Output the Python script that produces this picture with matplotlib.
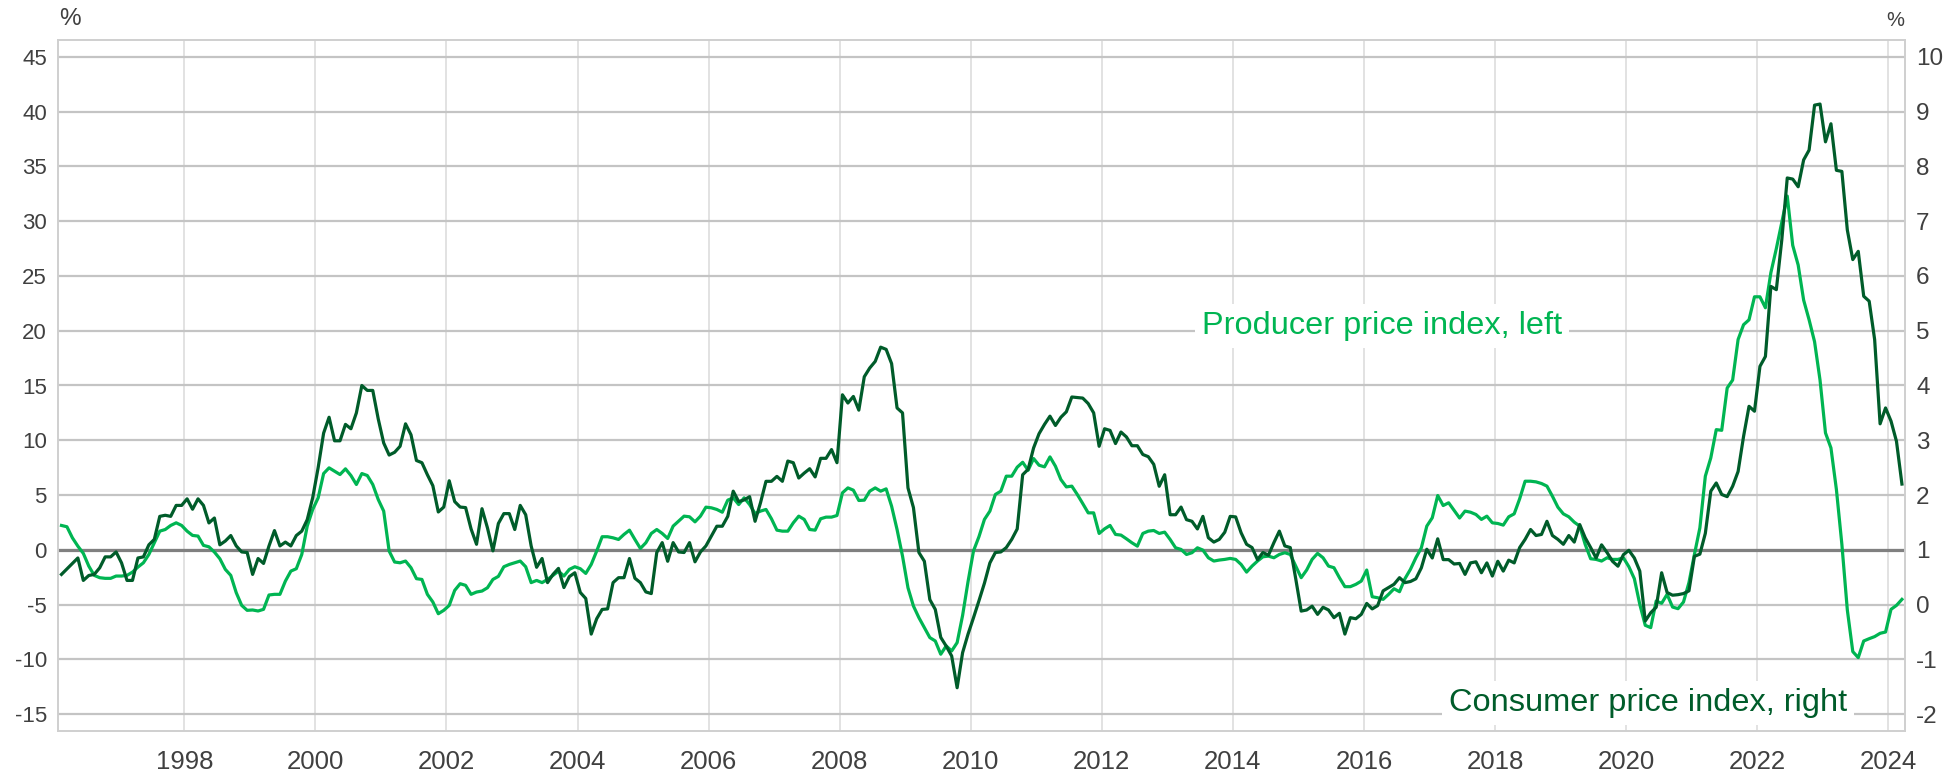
import numpy as np
import matplotlib
matplotlib.use("Agg")
import matplotlib.pyplot as plt

plt.rcParams['font.family'] = ['Liberation Sans', 'DejaVu Sans']

# Monthly observations, Feb 1996 .. Mar 2024
start_year, start_month = 1996, 2

# Consumer price index, % (right axis)
cpi = [
    0.55, 0.65, 0.75, 0.85, 0.44, 0.53, 0.55, 0.67, 0.87, 0.87,
    0.96, 0.76, 0.44, 0.44, 0.85, 0.87, 1.09, 1.19, 1.61, 1.63,
    1.61, 1.81, 1.81, 1.93, 1.74, 1.93, 1.81, 1.49, 1.58, 1.09,
    1.16, 1.26, 1.07, 0.96, 0.95, 0.55, 0.84, 0.75, 1.07, 1.35,
    1.07, 1.14, 1.07, 1.26, 1.34, 1.55, 1.95, 2.50, 3.13, 3.42,
    2.99, 2.99, 3.29, 3.21, 3.50, 4.00, 3.91, 3.91, 3.39, 2.95,
    2.73, 2.78, 2.89, 3.30, 3.10, 2.63, 2.59, 2.37, 2.17, 1.69,
    1.78, 2.26, 1.88, 1.78, 1.77, 1.38, 1.10, 1.75, 1.40, 0.98,
    1.48, 1.66, 1.66, 1.37, 1.81, 1.64, 1.07, 0.68, 0.84, 0.40,
    0.55, 0.66, 0.31, 0.51, 0.58, 0.22, 0.11, -0.54, -0.26, -0.09,
    -0.08, 0.40, 0.49, 0.49, 0.84, 0.48, 0.40, 0.23, 0.20, 0.95,
    1.13, 0.79, 1.13, 0.96, 0.95, 1.13, 0.78, 0.96, 1.07, 1.25,
    1.43, 1.43, 1.61, 2.07, 1.88, 1.91, 1.97, 1.52, 1.86, 2.25,
    2.25, 2.34, 2.25, 2.62, 2.59, 2.31, 2.40, 2.48, 2.33, 2.67,
    2.67, 2.83, 2.59, 3.83, 3.68, 3.80, 3.55, 4.16, 4.32, 4.44,
    4.70, 4.66, 4.40, 3.59, 3.50, 2.13, 1.77, 0.95, 0.79, 0.09,
    -0.09, -0.60, -0.76, -0.94, -1.52, -0.88, -0.54, -0.24, 0.07, 0.39,
    0.76, 0.95, 0.96, 1.04, 1.19, 1.38, 2.37, 2.47, 2.86, 3.12,
    3.29, 3.44, 3.27, 3.42, 3.52, 3.79, 3.78, 3.77, 3.67, 3.50,
    2.89, 3.21, 3.18, 2.94, 3.15, 3.06, 2.90, 2.90, 2.74, 2.70,
    2.56, 2.16, 2.37, 1.64, 1.64, 1.78, 1.55, 1.52, 1.38, 1.61,
    1.22, 1.14, 1.19, 1.32, 1.61, 1.60, 1.31, 1.10, 1.04, 0.82,
    0.95, 0.90, 1.13, 1.34, 1.07, 1.04, 0.47, -0.12, -0.10, -0.03,
    -0.18, -0.05, -0.10, -0.24, -0.16, -0.54, -0.24, -0.26, -0.18, 0.02,
    -0.08, -0.02, 0.25, 0.31, 0.37, 0.49, 0.40, 0.42, 0.47, 0.67,
    1.01, 0.85, 1.20, 0.82, 0.82, 0.74, 0.75, 0.55, 0.76, 0.78,
    0.58, 0.76, 0.52, 0.79, 0.61, 0.81, 0.76, 1.04, 1.19, 1.37,
    1.26, 1.28, 1.52, 1.26, 1.19, 1.10, 1.26, 1.14, 1.46, 1.22,
    1.04, 0.85, 1.09, 0.95, 0.79, 0.70, 0.91, 0.99, 0.85, 0.61,
    -0.30, -0.15, -0.05, 0.58, 0.22, 0.17, 0.18, 0.20, 0.25, 0.88,
    0.92, 1.30, 2.07, 2.22, 2.01, 1.97, 2.16, 2.43, 3.07, 3.62,
    3.53, 4.35, 4.53, 5.81, 5.75, 6.66, 7.79, 7.77, 7.63, 8.12,
    8.30, 9.12, 9.14, 8.45, 8.78, 7.93, 7.91, 6.84, 6.30, 6.45,
    5.63, 5.54, 4.84, 3.30, 3.59, 3.35, 2.98, 2.20,
]

# Producer price index, % (left axis)
ppi = [
    2.22, 2.10, 1.09, 0.33, -0.33, -1.49, -2.34, -2.55, -2.61, -2.61,
    -2.40, -2.40, -2.34, -2.04, -1.58, -1.19, -0.43, 0.64, 1.70, 1.85,
    2.22, 2.46, 2.22, 1.70, 1.31, 1.25, 0.40, 0.27, -0.21, -0.82,
    -1.79, -2.34, -3.92, -5.08, -5.53, -5.50, -5.59, -5.44, -4.13, -4.07,
    -4.07, -2.86, -1.95, -1.73, -0.43, 2.16, 3.68, 4.74, 6.96, 7.48,
    7.17, 6.87, 7.39, 6.78, 5.96, 6.96, 6.78, 5.96, 4.59, 3.53,
    -0.12, -1.12, -1.19, -1.03, -1.64, -2.64, -2.71, -4.07, -4.77, -5.84,
    -5.53, -5.08, -3.71, -3.10, -3.25, -4.07, -3.86, -3.77, -3.47, -2.71,
    -2.43, -1.55, -1.34, -1.19, -1.03, -1.55, -3.00, -2.80, -3.00, -2.71,
    -2.34, -1.95, -2.40, -1.79, -1.55, -1.73, -2.16, -1.34, -0.12, 1.19,
    1.19, 1.09, 0.94, 1.40, 1.79, 0.94, 0.12, 0.64, 1.49, 1.85,
    1.49, 1.03, 2.16, 2.61, 3.07, 3.01, 2.55, 3.07, 3.89, 3.83,
    3.68, 3.43, 4.53, 4.74, 4.13, 4.74, 4.13, 3.31, 3.53, 3.68,
    2.83, 1.79, 1.70, 1.70, 2.46, 3.07, 2.77, 1.85, 1.79, 2.83,
    2.98, 2.98, 3.13, 5.20, 5.65, 5.44, 4.50, 4.53, 5.35, 5.65,
    5.35, 5.56, 3.98, 1.85, -0.58, -3.47, -5.14, -6.20, -7.11, -8.02,
    -8.33, -9.54, -8.78, -9.24, -8.48, -6.00, -2.90, -0.10, 1.20, 2.77,
    3.53, 5.05, 5.35, 6.72, 6.72, 7.54, 7.99, 7.26, 8.33, 7.72,
    7.57, 8.48, 7.63, 6.41, 5.74, 5.81, 5.05, 4.22, 3.37, 3.37,
    1.49, 1.91, 2.22, 1.40, 1.34, 1.00, 0.64, 0.33, 1.49, 1.70,
    1.76, 1.49, 1.61, 0.94, 0.18, 0.03, -0.43, -0.27, 0.18, -0.03,
    -0.73, -1.03, -0.94, -0.88, -0.79, -0.88, -1.34, -2.04, -1.49, -1.03,
    -0.64, -0.58, -0.73, -0.43, -0.27, -0.43, -1.49, -2.55, -1.85, -0.88,
    -0.33, -0.73, -1.49, -1.64, -2.55, -3.37, -3.37, -3.16, -2.86, -1.85,
    -4.29, -4.38, -4.53, -4.07, -3.56, -3.83, -2.64, -1.79, -0.73, 0.18,
    2.16, 2.92, 4.95, 4.04, 4.29, 3.60, 2.90, 3.53, 3.43, 3.22,
    2.77, 3.07, 2.46, 2.40, 2.25, 3.01, 3.28, 4.65, 6.26, 6.26,
    6.20, 6.05, 5.81, 4.89, 3.89, 3.28, 3.01, 2.52, 2.16, 0.49,
    -0.82, -0.88, -1.03, -0.73, -0.88, -0.88, -0.73, -1.55, -2.64, -4.98,
    -6.90, -7.11, -4.68, -4.89, -4.07, -5.23, -5.38, -4.77, -3.00, -0.43,
    2.00, 6.72, 8.39, 10.97, 10.91, 14.77, 15.50, 19.20, 20.55, 21.00,
    23.10, 23.10, 22.10, 25.30, 27.50, 29.90, 32.30, 27.80, 26.00, 22.80,
    21.00, 19.00, 15.50, 10.67, 9.30, 5.50, 0.50, -5.50, -9.30, -9.85,
    -8.33, -8.12, -7.93, -7.63, -7.51, -5.44, -5.08, -4.53,
]

left_ticks = list(range(-15, 50, 5))
right_ticks = list(range(-2, 11, 1))
year_ticks = list(range(1998, 2025, 2))
ppi_label = "Producer price index, left"
cpi_label = "Consumer price index, right"

n = len(cpi)
x = start_year + (start_month - 1 + np.arange(n) + 0.5) / 12.0

DARK = '#005c2a'
LIGHT = '#00b552'
TXT = '#404040'

fig = plt.figure(figsize=(19.49, 7.75), dpi=100)
ax = fig.add_axes([58 / 1949, 1 - 731 / 775, (1905 - 58) / 1949, (731 - 40) / 775])
ax2 = ax.twinx()

ylo, yhi = -16.55, 46.55
ax.set_ylim(ylo, yhi)
ax2.set_ylim(1 + ylo / 5, 1 + yhi / 5)
ax.set_xlim(1996.072, 2024.255)

ax.set_yticks(left_ticks)
ax2.set_yticks(right_ticks)
ax.set_xticks(year_ticks)
ax.set_yticklabels([str(t) for t in left_ticks])
ax2.set_yticklabels([str(t) for t in right_ticks])
ax.set_xticklabels([str(t) for t in year_ticks])

ax.grid(axis='y', color='#c4c4c4', lw=1.6, zorder=0)
ax.grid(axis='x', color='#dddddd', lw=1.2, zorder=0)
ax.set_axisbelow(True)
ax.axhline(0, color='#808080', lw=2.3, zorder=1)

for a in (ax, ax2):
    for s in a.spines.values():
        s.set_color('#cfcfcf')
        s.set_linewidth(1.2)

ax.tick_params(axis='y', length=0, pad=8, labelsize=16, labelcolor=TXT)
ax2.tick_params(axis='y', length=0, pad=8, labelsize=17.5, labelcolor=TXT)
ax.tick_params(axis='x', length=0, pad=14, labelsize=18.5, labelcolor=TXT)

ax.plot(x, ppi, color=LIGHT, lw=2.3, zorder=3, solid_joinstyle='round')
ax2.plot(x, cpi, color=DARK, lw=2.3, zorder=3, solid_joinstyle='round')

ax.text(2016.28, 20.43, ppi_label, color=LIGHT, fontsize=23.4, ha='center', va='center',
        bbox=dict(facecolor='white', edgecolor='none', pad=5), zorder=2)
ax.text(2020.33, -14.0, cpi_label, color=DARK, fontsize=23.4, ha='center', va='center',
        bbox=dict(facecolor='white', edgecolor='none', pad=5), zorder=2)

fig.text(70 / 1949, 1 - 19 / 775, '%', color=TXT, fontsize=17.5, ha='center', va='center')
fig.text(1895 / 1949, 1 - 21 / 775, '%', color=TXT, fontsize=14.5, ha='center', va='center')

fig.savefig('out.png', dpi=100)
